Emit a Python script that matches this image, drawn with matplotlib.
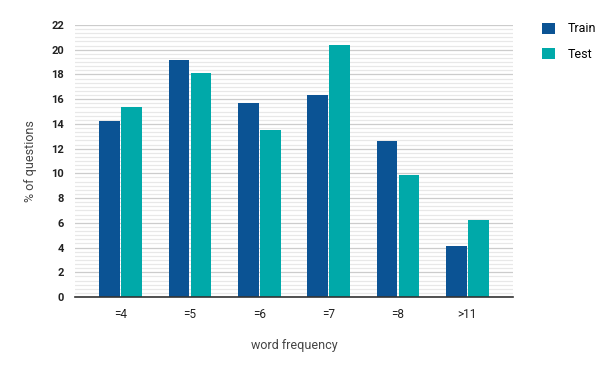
import matplotlib
matplotlib.use('Agg')
import matplotlib.pyplot as plt
import numpy as np
from matplotlib.patches import Patch

plt.rcParams['font.family'] = ['Roboto', 'DejaVu Sans']

categories = ['=4', '=5', '=6', '=7', '=8', '>11']
train = [14.2, 19.2, 15.7, 16.3, 12.6, 4.1]
test = [15.4, 18.1, 13.5, 20.4, 9.9, 6.2]

train_color = '#0b5394'
test_color = '#00a9a9'

fig = plt.figure(figsize=(6, 3.71), dpi=100)
ax = fig.add_axes([0.125, 0.1995, 0.73, 0.7331])

x = np.arange(len(categories))
w = 0.30
ax.bar(x - w / 2 - 0.008, train, w, color=train_color, zorder=3)
ax.bar(x + w / 2 + 0.008, test, w, color=test_color, zorder=3)

ax.set_xlim(-0.66, 5.66)
ax.set_ylim(0, 22)
ax.set_yticks(np.arange(0, 23, 2))
ax.set_yticks(np.arange(0, 22, 1 / 3), minor=True)
ax.grid(axis='y', which='major', color='#cccccc', linewidth=0.9, zorder=0)
ax.grid(axis='y', which='minor', color='#e8e8e8', linewidth=0.9, zorder=0)
ax.tick_params(axis='y', which='both', length=0, labelsize=8, pad=8)
ax.tick_params(axis='x', length=0, labelsize=8.5, pad=8)
for lbl in ax.get_yticklabels():
    lbl.set_fontweight('bold')
    lbl.set_color('#222222')
ax.set_xticks(x)
ax.set_xticklabels(categories, color='#222222')

for s in ['top', 'right', 'left']:
    ax.spines[s].set_visible(False)
ax.spines['bottom'].set_color('#333333')
ax.spines['bottom'].set_linewidth(1.2)
ax.spines['bottom'].set_zorder(4)

ax.set_ylabel('% of questions', fontsize=9, color='#444444', labelpad=10)
ax.set_xlabel('word frequency', fontsize=9, color='#444444', labelpad=13)

handles = [Patch(facecolor=train_color, label='Train'),
           Patch(facecolor=test_color, label='Test')]
fig.legend(handles=handles, loc='upper left', bbox_to_anchor=(0.885, 0.97),
           frameon=False, fontsize=9, handlelength=1.0, handleheight=1.0,
           handletextpad=1.0, labelspacing=1.0)

fig.savefig('out.png', dpi=100)
